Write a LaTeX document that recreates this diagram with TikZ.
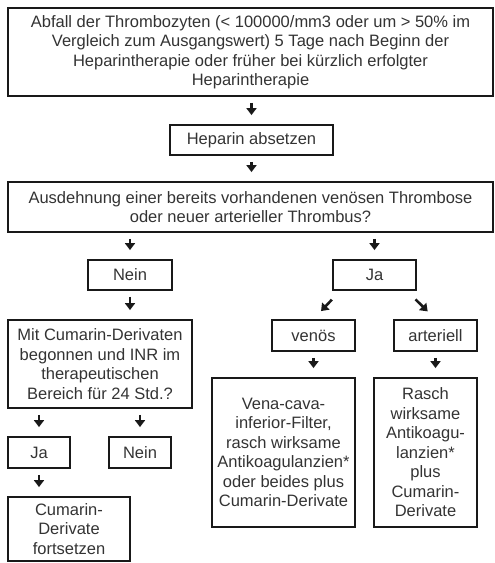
\documentclass[tikz,border=0pt]{standalone}
\usepackage{fontspec}
\setmainfont{Liberation Sans}
\usetikzlibrary{arrows.meta}
\begin{document}
\begin{tikzpicture}
  [x=1pt,y=-1pt,
    every node/.style={draw=black!90,line width=1.8pt,inner sep=0pt,align=center,
      text=black!80,font=\fontsize{16.5}{19.5}\selectfont},
    arr/.style={-{Triangle[width=10pt,length=7pt]},line width=2.6pt,black!90,
      shorten <=6pt,shorten >=9pt},
    slant/.style={arr,shorten <=12pt,shorten >=11pt},
  ]
  \useasboundingbox (0,0) rectangle (495,563);
  \node[minimum width=485pt,minimum height=88pt] (abfall) at (250.5,52)
    {Abfall der Thrombozyten (< 100000/mm3 oder um > 50\% im\\
     Vergleich zum Ausgangswert) 5 Tage nach Beginn der\\
     Heparintherapie oder früher bei kürzlich erfolgter\\
     Heparintherapie};
  \node[minimum width=163pt,minimum height=30pt] (absetzen) at (251.5,140) {Heparin absetzen};
  \node[minimum width=485pt,minimum height=50pt] (frage) at (250.5,207)
    {Ausdehnung einer bereits vorhandenen venösen Thrombose\\
     oder neuer arterieller Thrombus?};
  \node[minimum width=84pt,minimum height=30pt] (nein1) at (130,275) {Nein};
  \node[minimum width=83pt,minimum height=30pt] (ja1) at (374.5,275) {Ja};
  \node[minimum width=184pt,minimum height=88pt] (cumarin) at (100,364)
    {Mit Cumarin-Derivaten\\ begonnen und INR im\\ therapeutischen\\ Bereich für 24 Std.?};
  \node[minimum width=83pt,minimum height=31pt] (venoes) at (313.5,335.5) {venös};
  \node[minimum width=83pt,minimum height=31pt] (arteriell) at (435.5,335.5) {arteriell};
  \node[minimum width=143pt,minimum height=149pt] (vena) at (283.5,452.5)
    {Vena-cava-\\ inferior-Filter,\\ rasch wirksame\\ Antikoagulanzien*\\ oder beides plus\\ Cumarin-Derivate};
  \node[minimum width=103pt,minimum height=149pt] (rasch) at (425.5,452.5)
    {Rasch\\ wirksame\\ Antikoagu-\\ lanzien*\\ plus\\ Cumarin-\\ Derivate};
  \node[minimum width=62pt,minimum height=31pt] (ja2) at (39,452.5) {Ja};
  \node[minimum width=62pt,minimum height=31pt] (nein2) at (140,452.5) {Nein};
  \node[minimum width=122pt,minimum height=64pt] (fortsetzen) at (69,529)
    {Cumarin-\\ Derivate\\ fortsetzen};

  \draw[arr] (absetzen.north |- abfall.south) -- (absetzen.north);
  \draw[arr] (absetzen.south) -- (absetzen.south |- frage.north);
  \draw[arr] (nein1.north |- frage.south) -- (nein1.north);
  \draw[arr] (ja1.north |- frage.south) -- (ja1.north);
  \draw[arr] (nein1.south) -- (nein1.south |- cumarin.north);
  \draw[slant] ([xshift=8pt]ja1.south west) -- (venoes.north);
  \draw[slant] ([xshift=-10pt]ja1.south east) -- (arteriell.north);
  \draw[arr] (venoes.south) -- (venoes.south |- vena.north);
  \draw[arr] (arteriell.south) -- (arteriell.south |- rasch.north);
  \draw[arr] (ja2.north |- cumarin.south) -- (ja2.north);
  \draw[arr] (nein2.north |- cumarin.south) -- (nein2.north);
  \draw[arr] (ja2.south) -- (ja2.south |- fortsetzen.north);
\end{tikzpicture}
\end{document}
